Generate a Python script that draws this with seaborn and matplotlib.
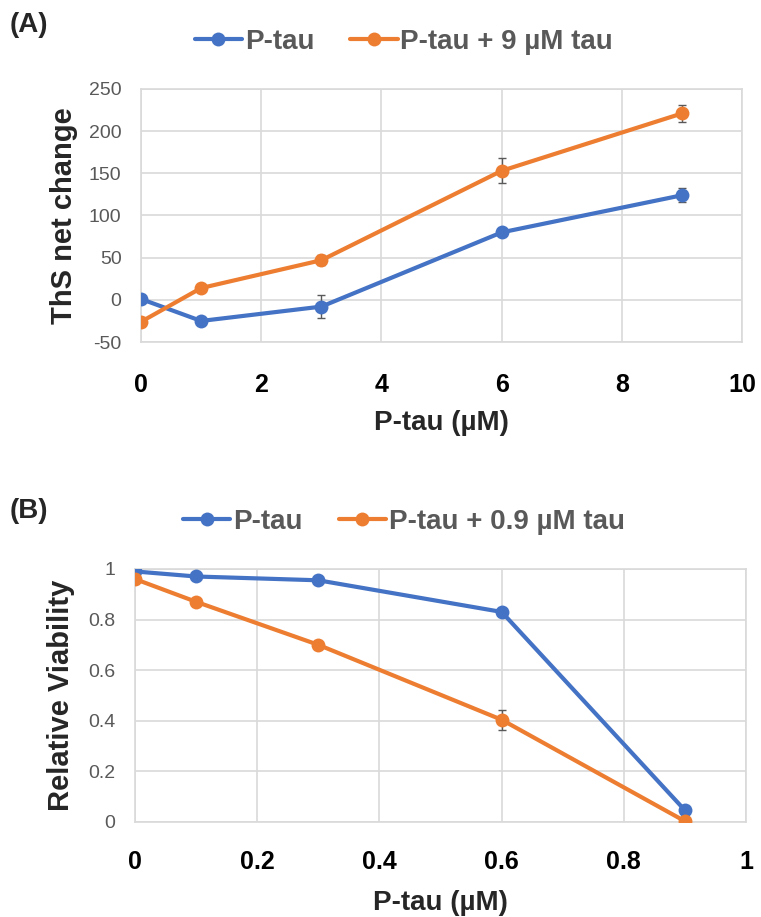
import numpy as np
import pandas as pd
import seaborn as sns
import matplotlib.pyplot as plt

sns.set_style('white')
plt.rcParams['font.family'] = ['Liberation Sans', 'DejaVu Sans']
plt.rcParams['axes.unicode_minus'] = False

blue = '#4472C4'
orange = '#ED7D31'
grey = '#595959'
gridc = '#D9D9D9'

# panel A: ThS fluorescence
conc_a = [0, 1, 3, 6, 9]
ths_ptau = [1, -25, -8, 80, 124]
ths_ptau_err = [0, 3, 14, 3, 8]
ths_mix = [-26, 14, 47, 153, 221]
ths_mix_err = [2, 3, 6, 15, 10]
label_mix_a = 'P-tau + 9 µM tau'

# panel B: viability
conc_b = [0, 0.1, 0.3, 0.6, 0.9]
via_ptau = [0.99, 0.97, 0.955, 0.83, 0.046]
via_ptau_err = [0.005, 0.01, 0.01, 0.01, 0.015]
via_mix = [0.96, 0.87, 0.70, 0.404, 0.003]
via_mix_err = [0.01, 0.015, 0.015, 0.04, 0.005]
label_mix_b = 'P-tau + 0.9 µM tau'


def panel(ax, x, y1, e1, y2, e2, lab2):
    df = pd.DataFrame({'x': x * 2, 'y': y1 + y2,
                       'grp': ['P-tau'] * len(x) + [lab2] * len(x)})
    ax.errorbar(x, y1, yerr=e1, fmt='none', ecolor=grey, elinewidth=1, capsize=3, zorder=2)
    ax.errorbar(x, y2, yerr=e2, fmt='none', ecolor=grey, elinewidth=1, capsize=3, zorder=2)
    sns.lineplot(data=df, x='x', y='y', hue='grp', palette=[blue, orange], marker='o',
                 markersize=10, markeredgewidth=0, linewidth=3, ax=ax, zorder=3)
    ax.grid(True, color=gridc, linewidth=1.2)
    for s in ax.spines.values():
        s.set_color(gridc)
        s.set_linewidth(1.2)
    ax.tick_params(length=0)
    ax.tick_params(axis='y', pad=14)
    ax.set_xlabel('P-tau (µM)', fontsize=20, fontweight='bold', va='top')
    ax.xaxis.set_label_coords(0.5, -0.27)
    h, l = ax.get_legend_handles_labels()
    ax.get_legend().remove()
    return h, l


def legend(h, l, ypix):
    fig.legend(h, l, loc='center', bbox_to_anchor=(404 / 761, 1 - ypix / 917), ncol=2,
               frameon=False, handlelength=1.7, handletextpad=0.1, columnspacing=1.3,
               prop={'size': 20, 'weight': 'bold'}, labelcolor=grey)


fig = plt.figure(figsize=(7.61, 9.17), dpi=100)

ax1 = fig.add_axes([0.1853, 0.627, 0.790, 0.276])
h, l = panel(ax1, conc_a, ths_ptau, ths_ptau_err, ths_mix, ths_mix_err, label_mix_a)
ax1.set_xlim(0, 10)
ax1.set_ylim(-50, 250)
ax1.set_xticks(np.arange(0, 11, 2))
ax1.set_yticks(np.arange(-50, 251, 50))
plt.setp(ax1.get_yticklabels(), color=grey, fontsize=14)
plt.setp(ax1.get_xticklabels(), color='black', fontsize=18, fontweight='bold')
ax1.tick_params(axis='x', pad=22)
ax1.set_ylabel('ThS net change', fontsize=21, fontweight='bold')
ax1.yaxis.set_label_coords(-0.105, 0.5)
legend(h, l, 42)
fig.text(0.013, 1 - 25 / 917, '(A)', fontsize=20, fontweight='bold', va='center')

ax2 = fig.add_axes([0.1774, 0.1036, 0.803, 0.276])
h, l = panel(ax2, conc_b, via_ptau, via_ptau_err, via_mix, via_mix_err, label_mix_b)
ax2.set_xlim(0, 1)
ax2.set_ylim(0, 1)
ax2.set_xticks(np.arange(0, 1.01, 0.2))
ax2.set_yticks(np.arange(0, 1.01, 0.2))
ax2.set_xticklabels(['0', '0.2', '0.4', '0.6', '0.8', '1'])
ax2.set_yticklabels(['0', '0.2', '0.4', '0.6', '0.8', '1'])
plt.setp(ax2.get_yticklabels(), color=grey, fontsize=14)
plt.setp(ax2.get_xticklabels(), color='black', fontsize=18, fontweight='bold')
ax2.tick_params(axis='x', pad=20)
ax2.set_ylabel('Relative Viability', fontsize=21, fontweight='bold')
ax2.yaxis.set_label_coords(-0.098, 0.5)
legend(h, l, 522)
fig.text(0.013, 1 - 511 / 917, '(B)', fontsize=20, fontweight='bold', va='center')

fig.savefig('out.png', dpi=100)
